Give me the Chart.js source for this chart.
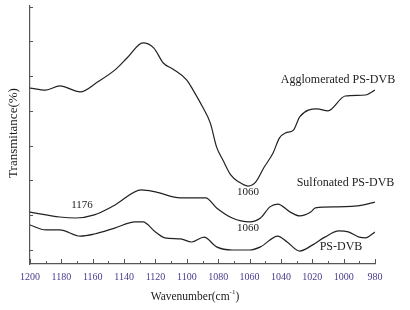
<!DOCTYPE html>
<html>
<head>
<meta charset="utf-8">
<script src="https://cdn.jsdelivr.net/npm/chart.js@4.4.0/dist/chart.umd.min.js"></script>
<style>
  body { margin: 0; background: #fff; }
  canvas { display: block; }
</style>
</head>
<body>
<canvas id="ftir" width="410" height="310"></canvas>
<script>
// wavenumbers (cm-1) and transmittance readings for each sample
const aggWave = [1200, 1190, 1181, 1168, 1157, 1145, 1138, 1128, 1121, 1115, 1109, 1100, 1096, 1090, 1085, 1081, 1077, 1072, 1067, 1061, 1056, 1051, 1045, 1041, 1037, 1032, 1028, 1017, 1010, 999, 986, 980];
const aggT = [46.6, 46.0, 47.2, 45.5, 48.3, 52.1, 55.3, 59.6, 58.1, 53.8, 52.1, 48.9, 46.0, 41.2, 36.5, 29.6, 25.9, 21.6, 19.6, 18.4, 19.6, 23.6, 27.9, 32.2, 33.7, 34.5, 38.3, 40.6, 40.0, 44.3, 44.6, 46.0];

const sulfWave = [1200, 1181, 1171, 1159, 1146, 1129, 1120, 1104, 1088, 1081, 1071, 1060, 1053, 1047, 1042, 1034, 1028, 1021, 1018, 1004, 988, 980];
const sulfT = [10.9, 9.5, 9.2, 10.1, 12.9, 17.3, 16.7, 15.0, 15.0, 12.1, 9.2, 8.1, 9.2, 12.4, 13.2, 10.9, 9.8, 10.9, 12.1, 12.4, 12.9, 13.8];

const psWave = [1200, 1190, 1181, 1168, 1159, 1146, 1133, 1128, 1120, 1114, 1104, 1097, 1089, 1081, 1071, 1060, 1053, 1042, 1036, 1028, 1020, 1012, 1003, 997, 990, 986, 980];
const psT = [7.2, 5.8, 5.8, 4.0, 4.6, 6.3, 8.1, 8.1, 5.2, 3.5, 3.2, 2.3, 3.7, 0.9, 0.0, 0.0, 0.9, 4.0, 2.3, -0.3, 1.4, 3.7, 5.5, 5.2, 3.7, 3.5, 5.2];

const xTicks = [1200, 1180, 1160, 1140, 1120, 1100, 1080, 1060, 1040, 1020, 1000, 980];
const yTicks = [0, 10, 20, 30, 40, 50, 60, 70];

// text notes: [text, wavenumber, transmittance, font size]
const notes = [
  ["Agglomerated PS-DVB", 1003.6, 48.9, 12],
  ["Sulfonated PS-DVB", 998.8, 19.3, 12],
  ["PS-DVB", 1001.7, 0.9, 12],
  ["1176", 1166.8, 12.9, 11],
  ["1060", 1061, 16.7, 11],
  ["1060", 1061, 6.3, 11]
];

const toPoints = (w, t) => w.map((x, i) => ({ x: x, y: t[i] }));

const serif = "'Liberation Serif', 'Times New Roman', serif";

const lineStyle = {
  borderColor: "#222",
  borderWidth: 1.2,
  pointRadius: 0,
  cubicInterpolationMode: "monotone",
  fill: false
};

const extras = {
  id: "extras",
  afterDraw(chart) {
    const ctx = chart.ctx;
    const xs = chart.scales.x;
    const ys = chart.scales.y;
    const area = chart.chartArea;
    ctx.save();
    ctx.strokeStyle = "#555";
    ctx.lineWidth = 1;
    // inside ticks on x axis, minor every 10
    for (let w = 980; w <= 1200; w += 10) {
      const px = Math.round(xs.getPixelForValue(w)) + 0.5;
      const len = xTicks.includes(w) ? 5 : 3;
      ctx.beginPath();
      ctx.moveTo(px, area.bottom);
      ctx.lineTo(px, area.bottom - len);
      ctx.stroke();
    }
    yTicks.forEach((v) => {
      const py = Math.round(ys.getPixelForValue(v)) + 0.5;
      ctx.beginPath();
      ctx.moveTo(area.left, py);
      ctx.lineTo(area.left + 3, py);
      ctx.stroke();
    });

    ctx.fillStyle = "#222";
    ctx.textAlign = "center";
    ctx.textBaseline = "middle";
    notes.forEach((n) => {
      ctx.font = n[3] + "px " + serif;
      ctx.fillText(n[0], xs.getPixelForValue(n[1]), ys.getPixelForValue(n[2]));
    });

    // axis titles
    ctx.fillStyle = "#1a1a1a";
    ctx.font = "11.5px " + serif;
    const main = "Wavenumber(cm";
    const sup = "-1";
    const tail = ")";
    const wMain = ctx.measureText(main).width;
    ctx.font = "7px " + serif;
    const wSup = ctx.measureText(sup).width;
    ctx.font = "11.5px " + serif;
    const wTail = ctx.measureText(tail).width;
    let tx = 195 - (wMain + wSup + wTail) / 2;
    ctx.textAlign = "left";
    ctx.fillText(main, tx, 297);
    tx += wMain;
    ctx.font = "7px " + serif;
    ctx.fillText(sup, tx, 292);
    tx += wSup;
    ctx.font = "11.5px " + serif;
    ctx.fillText(tail, tx, 297);

    ctx.translate(14, 133);
    ctx.rotate(-Math.PI / 2);
    ctx.textAlign = "center";
    ctx.font = "13px " + serif;
    ctx.fillText("Transmitance(%)", 0, 0);
    ctx.restore();
  }
};

new Chart(document.getElementById("ftir"), {
  type: "line",
  data: {
    datasets: [
      Object.assign({ label: "Agglomerated PS-DVB", data: toPoints(aggWave, aggT) }, lineStyle),
      Object.assign({ label: "Sulfonated PS-DVB", data: toPoints(sulfWave, sulfT) }, lineStyle),
      Object.assign({ label: "PS-DVB", data: toPoints(psWave, psT) }, lineStyle)
    ]
  },
  options: {
    responsive: false,
    animation: false,
    devicePixelRatio: 1,
    layout: { padding: { left: 0, right: 35, top: 6, bottom: 0 } },
    plugins: {
      legend: { display: false },
      tooltip: { enabled: false }
    },
    scales: {
      x: {
        type: "linear",
        reverse: true,
        min: 980,
        max: 1200,
        afterFit: (scale) => { scale.height = 46; },
        afterBuildTicks: (scale) => { scale.ticks = xTicks.map((v) => ({ value: v })); },
        grid: { display: false, drawTicks: false },
        border: { display: true, color: "#555", width: 1.2 },
        ticks: {
          color: "#4a3a8c",
          padding: 7,
          maxRotation: 0,
          autoSkip: false,
          font: { family: serif, size: 10 },
          callback: (v) => String(v)
        }
      },
      y: {
        type: "linear",
        min: -4.03,
        max: 70.2,
        afterFit: (scale) => { scale.width = 30; },
        grid: { display: false, drawTicks: false },
        border: { display: true, color: "#555", width: 1.2 },
        ticks: { display: false }
      }
    }
  },
  plugins: [extras]
});
</script>
</body>
</html>
